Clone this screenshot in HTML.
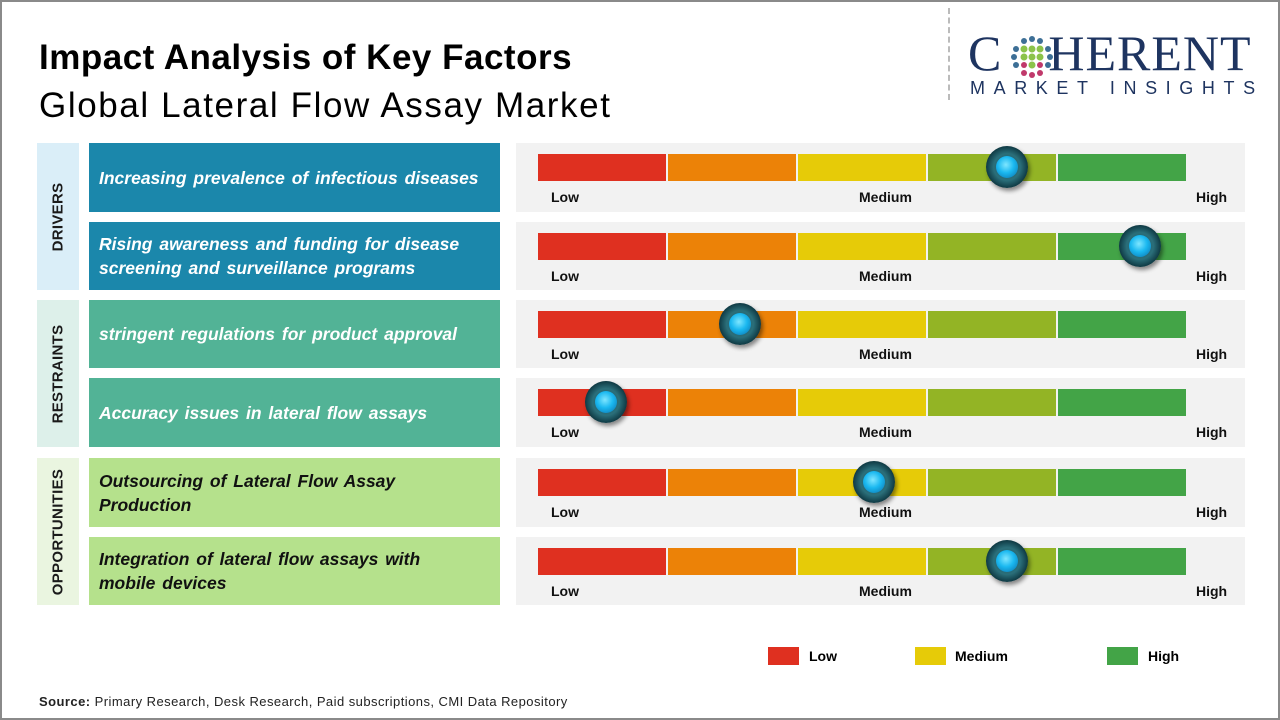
<!DOCTYPE html>
<html><head><meta charset="utf-8"><style>
*{margin:0;padding:0;box-sizing:border-box}
body{width:1280px;height:720px;background:#fff;position:relative;overflow:hidden;font-family:"Liberation Sans",sans-serif}
.frame{position:absolute;left:0;top:0;width:1280px;height:720px;border:2px solid #8a8a8a}
.a{position:absolute}
.cat{position:absolute;left:37px;width:42px}
.cat span{position:absolute;left:50%;top:50%;transform:translate(-50%,-50%) rotate(-90deg);font-size:15px;font-weight:bold;color:#1a1a1a;white-space:nowrap;letter-spacing:0.3px}
.f{position:absolute;left:89px;width:411px;height:68px;display:flex;align-items:center;padding-left:10px;font-size:17.5px;font-weight:bold;font-style:italic;line-height:24px;word-spacing:2px}
.p{position:absolute;left:516px;width:729px;height:68px;background:#f2f2f2}
.bar{position:absolute;left:22px;top:11px;height:27px;width:648px;display:flex}
.bar div{flex:1;margin-right:1.5px}
.bar div:last-child{margin-right:0}
.lb{position:absolute;top:46px;font-size:14px;font-weight:bold;color:#111}
.k{position:absolute;width:42px;height:42px;border-radius:50%;background:radial-gradient(circle at 50% 50%,#1f5560 0,#2b6f7a 45%,#0f3a44 70%,#1d4f59 100%);box-shadow:2px 3px 4px rgba(0,0,0,.45)}
.k:after{content:"";position:absolute;left:10px;top:10px;width:22px;height:22px;border-radius:50%;background:radial-gradient(circle at 45% 40%,#7fe6ff 0,#1ab8f0 45%,#0a6ea8 100%)}
</style></head><body>
<div class="frame"></div>
<div class="a" style="left:39px;top:38px;font-size:35px;font-weight:bold;color:#000;letter-spacing:0.5px">Impact Analysis of Key Factors</div>
<div class="a" style="left:39px;top:86px;font-size:35px;color:#000;letter-spacing:1.6px">Global Lateral Flow Assay Market</div>
<div class="a" style="left:948px;top:8px;height:92px;border-left:2px dashed #bbb"></div>
<div class="a" style="left:968px;top:28px;font-family:'Liberation Serif',serif;font-size:50px;color:#1e3460;line-height:50px;letter-spacing:1px">C<span style="display:inline-block;width:46px"></span>HERENT</div>
<svg class="a" style="left:1010px;top:35px" width="44" height="44" viewBox="0 0 44 44">
<g fill="#3d6f96"><circle cx="22" cy="4" r="3"/><circle cx="14" cy="6" r="3"/><circle cx="30" cy="6" r="3"/><circle cx="6" cy="14" r="3"/><circle cx="38" cy="14" r="3"/><circle cx="4" cy="22" r="3"/><circle cx="40" cy="22" r="3"/><circle cx="6" cy="30" r="3"/><circle cx="38" cy="30" r="3"/></g>
<g fill="#8bc34a"><circle cx="14" cy="14" r="3.5"/><circle cx="22" cy="14" r="3.5"/><circle cx="30" cy="14" r="3.5"/><circle cx="14" cy="22" r="3.5"/><circle cx="22" cy="22" r="3.5"/><circle cx="30" cy="22" r="3.5"/><circle cx="22" cy="30" r="3.5"/></g>
<g fill="#c0396b"><circle cx="14" cy="38" r="3"/><circle cx="22" cy="40" r="3"/><circle cx="30" cy="38" r="3"/><circle cx="14" cy="30" r="3"/><circle cx="30" cy="30" r="3"/></g></svg>
<div class="a" style="left:970px;top:78px;font-size:18px;color:#1e3460;letter-spacing:8.6px">MARKET INSIGHTS</div>

<div class="cat" style="top:143px;height:147px;background:#daeef8"><span>DRIVERS</span></div>
<div class="cat" style="top:300px;height:147px;background:#ddf0ea"><span>RESTRAINTS</span></div>
<div class="cat" style="top:458px;height:147px;background:#eaf5e0"><span>OPPORTUNITIES</span></div>

<div class="f" style="top:143px;height:69px;background:#1b87ab;color:#fff">Increasing prevalence of infectious diseases</div>
<div class="f" style="top:222px;background:#1b87ab;color:#fff">Rising awareness and funding for disease<br>screening and surveillance programs</div>
<div class="f" style="top:300px;background:#52b396;color:#fff">stringent regulations for product approval</div>
<div class="f" style="top:378px;height:69px;background:#52b396;color:#fff">Accuracy issues in lateral flow assays</div>
<div class="f" style="top:458px;height:69px;background:#b5e18c;color:#111">Outsourcing of Lateral Flow Assay<br>Production</div>
<div class="f" style="top:537px;background:#b5e18c;color:#111">Integration of lateral flow assays with<br>mobile devices</div>

<div id="panels"></div>
<script>
var tops=[143,222,300,378,458,537],kx=[1007,1140,740,606,874,1007];
var h='';
for(var i=0;i<6;i++){
h+='<div class="p" style="top:'+tops[i]+'px;height:'+(i==0||i==3||i==4?69:68)+'px"><div class="bar"><div style="background:#df3020"></div><div style="background:#ec8207"></div><div style="background:#e6cb08"></div><div style="background:#93b425"></div><div style="background:#43a447"></div></div>'+
'<div class="lb" style="left:35px">Low</div><div class="lb" style="left:343px">Medium</div><div class="lb" style="left:680px">High</div></div>';
h+='<div class="k" style="left:'+(kx[i]-21)+'px;top:'+(tops[i]+24-21)+'px"></div>';
}
document.getElementById('panels').innerHTML=h;
</script>

<div class="a" style="left:768px;top:647px;width:31px;height:18px;background:#df3020"></div>
<div class="a" style="left:809px;top:648px;font-size:14px;font-weight:bold">Low</div>
<div class="a" style="left:915px;top:647px;width:31px;height:18px;background:#e6cb08"></div>
<div class="a" style="left:955px;top:648px;font-size:14px;font-weight:bold">Medium</div>
<div class="a" style="left:1107px;top:647px;width:31px;height:18px;background:#43a447"></div>
<div class="a" style="left:1148px;top:648px;font-size:14px;font-weight:bold">High</div>

<div class="a" style="left:39px;top:694px;font-size:13px;color:#222;letter-spacing:0.45px"><b>Source:</b> Primary Research, Desk Research, Paid subscriptions, CMI Data Repository</div>
</body></html>
